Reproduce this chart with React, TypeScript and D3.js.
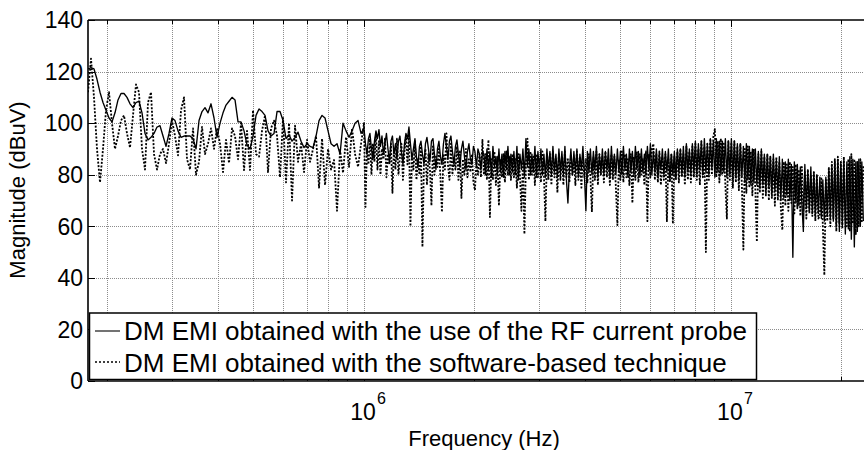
import React from 'react';
import * as d3 from 'd3';

const W = 864;
const H = 450;
const plotLeft = 88;
const plotTop = 20;
const plotBottom = 381;
const plotRightFull = 906;

const xDomain: [number, number] = [1.77e5, 3e7];
const yDomain: [number, number] = [0, 140];
const yTicks = [0, 20, 40, 60, 80, 100, 120, 140];
const xMajorTicks = [1e6, 1e7];
const xMajorExponents = ['6', '7'];

const legendLabels = [
  'DM EMI obtained with the use of the RF current probe',
  'DM EMI obtained with the software-based technique',
];

// frequency grids (Hz): low band sampled every 1/122.3 decade, high band every 1/244.7 decade
const lowStartHz = 1.77e5;
const lowPointsPerDecade = 122.3;
const highStartHz = 1e6;
const highPointsPerDecade = 244.7;

// RF current probe (solid), dBuV
const probeLow = [
  121, 121.5, 121, 117, 112, 108, 105, 102, 100.5, 104,
  109, 111.5, 111.5, 110, 107.5, 106, 108, 108.5, 104, 96,
  93.5, 94.5, 96, 98.5, 99, 95, 91, 96, 102, 101,
  97, 94.5, 95, 95, 95, 94, 90, 101, 104.5, 106,
  104, 107.5, 102, 94.5, 100, 104, 107, 108.5, 110, 109,
  100.5, 100.5, 97, 91.5, 90, 95, 103, 105.5, 104.5, 103,
  97, 95, 96, 104.5, 104.5, 101, 94, 95.5, 93, 94.5,
  96.5, 93, 90.5, 92, 91, 90.5, 95, 101, 103, 102,
  97, 92, 91, 92, 88, 100, 97, 94.5, 97, 100,
  101, 96, 98,
];
const probeHigh = [
  98, 92, 88, 94, 96, 90, 86, 93, 97, 94,
  97.5, 91, 95, 88, 92, 96, 90, 85, 93, 95,
  88, 92, 86, 93, 95, 89, 84, 92, 96, 94,
  98.5, 92, 86, 90, 94, 87, 83, 91, 93, 88,
  84, 92, 94.5, 90, 85, 93, 94, 88, 82, 90,
  93, 87, 84, 92, 96, 91, 86, 93, 95, 89,
  84, 91, 93.5, 88, 83, 90, 93, 87, 82, 89,
  92, 86, 84, 91, 89, 83, 90, 88, 82, 89,
  88, 80, 90, 82, 89, 79, 91, 83, 87, 80,
  90, 81, 88, 79, 89, 82, 91, 80, 88, 81,
  89, 80, 91, 78, 88, 82, 90, 79, 94, 83,
  90, 80, 88, 81, 91, 79, 89, 82, 90, 80,
  88, 79, 90, 82, 89, 80, 91, 81, 88, 79,
  90, 81, 89, 80, 91, 78, 69, 82, 90, 80,
  89, 81, 90, 79, 88, 82, 91, 80, 66, 89,
  81, 90, 80, 89, 82, 91, 79, 88, 81, 90,
  80, 89, 82, 90, 79, 91, 81, 88, 80, 90,
  81, 89, 80, 91, 82, 88, 79, 90, 81, 89,
  80, 91, 82, 89, 79, 90, 81, 88, 80, 91,
  82, 92, 80, 89, 81, 90, 79, 88, 82, 90,
  80, 89, 81, 90, 78, 88, 80, 89, 79, 90,
  81, 90, 80, 91, 79, 92, 81, 90, 80, 92,
  81, 93, 80, 92, 82, 93, 80, 94, 81, 92,
  80, 94, 82, 93, 79, 94, 81, 93, 80, 93,
  81, 94, 79, 93, 80, 94, 78, 93, 79, 92,
  78, 92, 79, 91, 77, 92, 78, 91, 76, 90,
  77, 90, 76, 89, 75, 90, 76, 88, 74, 88,
  75, 87, 73, 88, 74, 86, 72, 87, 70, 86,
  71, 85, 72, 86, 70, 84, 48, 85, 69, 84,
  68, 83, 69, 58, 84, 67, 82, 66, 83, 65,
  81, 64, 80, 65, 79, 63, 78, 62, 79, 64,
  82, 63, 84, 62, 85, 60, 86, 58, 85, 60,
  86, 57, 85, 59, 87, 55, 86, 52, 85, 58,
  86, 60, 85, 62,
];

// software-based technique (dotted), dBuV
const softLow = [
  112, 125, 110, 90, 77, 90, 105, 112, 100, 90,
  95, 101, 103, 96, 90.5, 103, 115, 112, 90, 82,
  108, 112, 88, 82, 88, 90, 84.5, 92, 101, 95,
  87.5, 105, 110, 86, 82, 98, 80, 85, 98.5, 88,
  92, 98, 90, 98, 92, 81, 93.5, 84.5, 98, 95,
  86, 100, 81.8, 97, 81.8, 105, 88, 87, 97, 103,
  81, 98, 101, 95, 79, 102, 77, 100, 70, 99,
  85, 92, 81, 93.5, 85, 90, 95, 75, 94, 76,
  90, 82, 85.7, 66, 89.6, 80.7, 94.6, 83, 98, 88,
  83, 92, 100,
];
const softHigh = [
  100, 67.5, 90, 84, 94, 80, 92, 85, 96, 82,
  93, 80, 90, 86, 94, 79, 88, 84, 92, 73,
  90, 82, 94, 80, 87, 92, 78, 89, 95, 84,
  96, 60, 88, 82, 93, 78, 86, 80, 91, 52,
  84, 90, 76, 88, 82, 68, 91, 80, 87, 83,
  90, 79, 65.5, 88, 82, 96, 84, 78, 92, 80,
  87, 82, 91, 78, 89, 71, 86, 80, 90, 79,
  86, 81, 88, 77, 74, 85, 80, 88, 79, 93.5,
  80, 88, 78, 93.5, 63.6, 86, 78, 89, 76, 87,
  68, 86, 79, 88, 77, 89, 80, 87, 78, 88,
  79, 86, 75, 88, 80, 66, 85, 57, 84, 94,
  78, 89, 80, 87, 76, 88, 79, 86, 77, 89,
  80, 62, 87, 78, 88, 76, 89, 79, 86, 73,
  88, 78, 87, 76, 89, 79, 86, 77, 88, 80,
  86, 76, 89, 78, 87, 75, 88, 79, 86, 77,
  88, 79, 65.5, 87, 78, 89, 76, 88, 80, 87,
  77, 89, 79, 86, 76, 88, 78, 87, 75, 60.5,
  86, 78, 89, 77, 88, 79, 86, 76, 88, 69,
  87, 78, 89, 77, 88, 80, 86, 76, 89, 62,
  88, 79, 90, 92, 78, 88, 77, 89, 76, 87,
  78, 88, 62, 86, 77, 88, 61, 87, 78, 89,
  77, 90, 79, 88, 76, 91, 78, 89, 77, 91,
  79, 92, 78, 90, 76, 93, 79, 91, 50, 92,
  78, 94, 80, 95, 97.7, 79, 93, 77, 94, 80,
  92, 76, 63, 93, 78, 92, 75, 93, 77, 91,
  74, 92, 76, 51, 90, 73, 91, 75, 89, 72,
  90, 74, 54, 88, 73, 89, 71, 87, 72, 88,
  70, 87, 71, 86, 68, 87, 70, 85, 67, 58.5,
  85, 68, 84, 66, 85, 69, 83, 65, 84, 67,
  82, 64, 83, 66, 81, 63, 82, 65, 80, 64,
  81, 62, 80, 63, 64, 79, 60, 41, 78, 62,
  83, 60, 85, 63, 86, 58, 87, 61, 85, 59,
  87, 62, 60, 86, 58, 88, 61, 86, 57, 85,
  60, 86, 62, 84,
];

type Pt = [number, number];
const toPoints = (vals: number[], startHz: number, ppd: number): Pt[] =>
  vals.map((v, i) => [startHz * Math.pow(10, i / ppd), v] as Pt);

const FONT = '"Liberation Sans", Arial, Helvetica, sans-serif';

export default function App() {
  const x = d3.scaleLog().domain(xDomain).range([plotLeft, plotRightFull]);
  const y = d3.scaleLinear().domain(yDomain).range([plotBottom, plotTop]);

  const probe = [
    ...toPoints(probeLow, lowStartHz, lowPointsPerDecade),
    ...toPoints(probeHigh, highStartHz, highPointsPerDecade),
  ];
  const soft = [
    ...toPoints(softLow, lowStartHz, lowPointsPerDecade),
    ...toPoints(softHigh, highStartHz, highPointsPerDecade),
  ];
  const line = d3
    .line<Pt>()
    .x((d) => x(d[0]))
    .y((d) => y(d[1]));

  const gridFreqs: number[] = [];
  for (let dec = 5; dec <= 7; dec++) {
    for (let k = 1; k <= 9; k++) {
      const f = k * Math.pow(10, dec);
      if (f > xDomain[0] && f < xDomain[1]) gridFreqs.push(f);
    }
  }

  const gridColor = '#8c8c8c';

  return (
    <svg
      width={W}
      height={H}
      viewBox={`0 0 ${W} ${H}`}
      style={{ position: 'absolute', left: 0, top: 0, background: '#fff' }}
    >
      <defs>
        <clipPath id="plotClip">
          <rect x={plotLeft} y={plotTop} width={plotRightFull - plotLeft} height={plotBottom - plotTop} />
        </clipPath>
      </defs>
      <rect x={0} y={0} width={W} height={H} fill="#fff" />

      {/* grid */}
      <g stroke={gridColor} strokeWidth={1} strokeDasharray="1,1" fill="none">
        {gridFreqs.map((f) => (
          <line key={'gx' + f} x1={Math.round(x(f)) + 0.5} x2={Math.round(x(f)) + 0.5} y1={plotTop} y2={plotBottom} />
        ))}
        {yTicks
          .filter((t) => t > 0 && t < 140)
          .map((t) => (
            <line key={'gy' + t} x1={plotLeft} x2={W} y1={Math.round(y(t)) + 0.5} y2={Math.round(y(t)) + 0.5} />
          ))}
      </g>

      {/* data */}
      <g clipPath="url(#plotClip)" fill="none" strokeLinejoin="round">
        <path d={line(soft) || ''} stroke="#000" strokeWidth={1.8} strokeDasharray="2,1.6" />
        <path d={line(probe) || ''} stroke="#000" strokeWidth={1.35} />
      </g>

      {/* ticks */}
      <g stroke="#000" strokeWidth={1}>
        {yTicks.map((t) => (
          <line key={'ty' + t} x1={plotLeft} x2={plotLeft + 7} y1={Math.round(y(t)) + 0.5} y2={Math.round(y(t)) + 0.5} />
        ))}
        {gridFreqs.map((f) => {
          const major = xMajorTicks.includes(f);
          const len = major ? 7 : 4;
          const xx = Math.round(x(f)) + 0.5;
          return (
            <g key={'tx' + f}>
              <line x1={xx} x2={xx} y1={plotBottom} y2={plotBottom - len} />
              <line x1={xx} x2={xx} y1={plotTop} y2={plotTop + len} />
            </g>
          );
        })}
      </g>

      {/* axes box */}
      <g stroke="#000" strokeWidth={1.6} fill="none">
        <line x1={plotLeft} x2={W} y1={plotTop} y2={plotTop} />
        <line x1={plotLeft} x2={W} y1={plotBottom} y2={plotBottom} />
        <line x1={plotLeft} x2={plotLeft} y1={plotTop} y2={plotBottom} />
      </g>

      {/* y tick labels */}
      <g fontFamily={FONT} fontSize={23} fill="#000" textAnchor="end">
        {yTicks.map((t) => (
          <text key={'ly' + t} x={plotLeft - 5} y={y(t)} dy="0.36em">
            {t}
          </text>
        ))}
      </g>

      {/* x tick labels */}
      <g fontFamily={FONT} fill="#000">
        {xMajorTicks.map((f, i) => (
          <g key={'lx' + f}>
            <text x={x(f) - 1} y={420} fontSize={23} textAnchor="middle">
              10
            </text>
            <text x={x(f) + 13} y={404} fontSize={16} textAnchor="start">
              {xMajorExponents[i]}
            </text>
          </g>
        ))}
      </g>

      {/* axis titles */}
      <text x={484} y={446} fontFamily={FONT} fontSize={22} textAnchor="middle" fill="#000">
        Frequency (Hz)
      </text>
      <text
        transform={`translate(25, 190) rotate(-90)`}
        fontFamily={FONT}
        fontSize={22}
        textAnchor="middle"
        fill="#000"
      >
        Magnitude (dBuV)
      </text>

      {/* legend */}
      <g>
        <rect x={89.5} y={313} width={667} height={66.5} fill="#fff" stroke="#000" strokeWidth={1.5} />
        <line x1={95} x2={120} y1={331} y2={331} stroke="#000" strokeWidth={1.1} />
        <line x1={95} x2={120} y1={362} y2={362} stroke="#000" strokeWidth={1.6} strokeDasharray="2,2" />
        <text x={124} y={340} fontFamily={FONT} fontSize={26} fill="#000">
          {legendLabels[0]}
        </text>
        <text x={124} y={372} fontFamily={FONT} fontSize={26} fill="#000">
          {legendLabels[1]}
        </text>
      </g>
    </svg>
  );
}
